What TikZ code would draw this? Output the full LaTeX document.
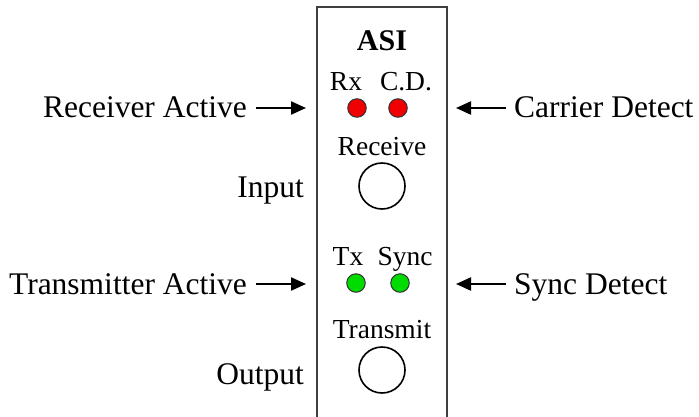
\documentclass[tikz,border=0pt]{standalone}
\usepackage{fontspec}
\setmainfont{Liberation Serif}
\usetikzlibrary{arrows.meta}
\definecolor{ledgreen}{RGB}{0,220,0}
\definecolor{ledred}{RGB}{240,0,0}
\begin{document}
\begin{tikzpicture}[x=1pt,y=-1pt,
  big/.style={font=\fontsize{31.5}{36}\selectfont, inner sep=0pt},
  small/.style={font=\fontsize{27.5}{32}\selectfont, inner sep=0pt},
  led/.style={circle, draw=black!80, line width=1pt, minimum size=18.5pt, inner sep=0pt},
  jack/.style={circle, draw=black, line width=1.6pt, minimum size=46pt, inner sep=0pt},
  pointer/.style={line width=2.2pt, -{Triangle[length=15pt,width=13pt]}}]
\useasboundingbox (0,0) rectangle (699,416);
% panel
\draw[line width=1.3pt, black!75] (317,430) -- (317,7) -- (447,7) -- (447,430);
% panel contents
\node[anchor=base, inner sep=0pt, font=\fontsize{30}{34}\selectfont\bfseries] (asi) at (382,50) {ASI};
\node[small, anchor=base] (rx) at (346,90) {Rx};
\node[small, anchor=base] (cd) at (406,90) {C.D.};
\node[led, fill=ledred] (rxled) at (357,108) {};
\node[led, fill=ledred] (cdled) at (398,108) {};
\node[small, anchor=base] (recv) at (382,155) {Receive};
\node[jack] (injack) at (382,186) {};
\node[small, anchor=base] (tx) at (348,265) {Tx};
\node[small, anchor=base] (sync) at (405,265) {Sync};
\node[led, fill=ledgreen] (txled) at (356,283) {};
\node[led, fill=ledgreen] (syncled) at (400,283) {};
\node[small, anchor=base] (xmit) at (382,338) {Transmit};
\node[jack] (outjack) at (382,370) {};
% side labels
\node[big, anchor=base east] (ra) at (247,117) {Receiver Active};
\node[big, anchor=base east] (inp) at (304,197) {Input};
\node[big, anchor=base east] (ta) at (247,294) {Transmitter Active};
\node[big, anchor=base east] (outp) at (304,384) {Output};
\node[big, anchor=base west] (cdl) at (514,117) {Carrier Detect};
\node[big, anchor=base west] (sdl) at (514,294) {Sync Detect};
% arrows
\coordinate (ra1) at (256,108);
\coordinate (ra2) at (306,108);
\coordinate (ta1) at (256,284);
\coordinate (ta2) at (306,284);
\coordinate (cd1) at (506,108);
\coordinate (cd2) at (456,108);
\coordinate (sd1) at (506,284);
\coordinate (sd2) at (456,284);
\draw[pointer] (ra1) -- (ra2);
\draw[pointer] (ta1) -- (ta2);
\draw[pointer] (cd1) -- (cd2);
\draw[pointer] (sd1) -- (sd2);
\end{tikzpicture}
\end{document}
